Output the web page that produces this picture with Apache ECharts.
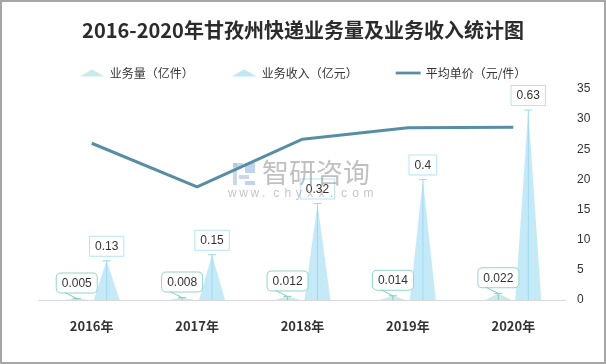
<!DOCTYPE html>
<html><head><meta charset="utf-8">
<script src="https://cdn.jsdelivr.net/npm/echarts@6/dist/echarts.min.js"></script>
<style>html,body{margin:0;padding:0;background:#fff}#c{width:606px;height:364px}</style>
</head><body><div id="c"></div>
<script>
// ---- data ----
const years = ['2016年', '2017年', '2018年', '2019年', '2020年'];
const volume = [0.005, 0.008, 0.012, 0.014, 0.022];   // 业务量（亿件）
const revenue = [0.13, 0.15, 0.32, 0.4, 0.63];        // 业务收入（亿元）
const unitPrice = [26, 18.75, 26.67, 28.57, 28.64];   // 平均单价（元/件）
const rightAxisMin = 0, rightAxisMax = 35, rightAxisStep = 5;
const leftAxisMin = 0, leftAxisMax = 0.7;

const names = ['业务量（亿件）', '业务收入（亿元）', '平均单价（元/件）'];
const volFill = '#c9ebe7', volLine = '#86cfc2', volBorder = '#93d5c9';
const revFill = 'rgba(186,230,247,0.85)', revLine = '#9dd9ef', revBorder = '#b5e4f5';
const lineColor = '#588ea3';

function stem(offset, color, tail) {
  return function (params, api) {
    const i = api.value(0), v = api.value(1);
    const top = api.coord([i, v]);
    const base = api.coord([i, 0]);
    const x = top[0] + offset;
    const children = [
      { type: 'line', shape: { x1: x, y1: top[1], x2: x, y2: base[1] }, style: { stroke: color, lineWidth: 1 } },
      { type: 'line', shape: { x1: x - 4, y1: top[1], x2: x + 4, y2: top[1] }, style: { stroke: color, lineWidth: 1 } }
    ];
    if (tail) {
      children.push({ type: 'line', shape: { x1: x - 12, y1: top[1] - 6, x2: x, y2: top[1] }, style: { stroke: color, lineWidth: 1 } });
    }
    return { type: 'group', children };
  };
}

const wm = [];
const url = 'www.chyxx.com';
for (let k = 0; k < url.length; k++) {
  wm.push({ type: 'text', left: 228 + k * 11.3, top: 188, z: 100,
    style: { text: url[k], fill: 'rgba(150,150,150,0.55)', font: '12px sans-serif' } });
}

const chart = echarts.init(document.getElementById('c'), null, { renderer: 'canvas' });
chart.setOption({
  backgroundColor: '#fff',
  animation: false,
  title: {
    text: '2016-2020年甘孜州快递业务量及业务收入统计图',
    left: 'center', top: 15,
    textStyle: { fontSize: 20, fontWeight: 'bold', color: '#2b2b2b', fontFamily: 'Noto Sans CJK SC' }
  },
  legend: {
    top: 62, left: 'center', itemWidth: 25, itemHeight: 14, itemGap: 38,
    textStyle: { fontSize: 12, color: '#333', fontFamily: 'Noto Sans CJK SC' },
    data: [
      { name: names[0], icon: 'path://M0,7 L12.5,0 L25,7 Z', itemStyle: { color: volFill } },
      { name: names[1], icon: 'path://M0,7 L12.5,0 L25,7 Z', itemStyle: { color: '#bfe7f6' } },
      { name: names[2], icon: 'path://M0,0 L27,0 L27,3 L0,3 Z', itemStyle: { color: lineColor } }
    ]
  },
  grid: { left: 39, right: 40, top: 89, bottom: 64 },
  xAxis: {
    type: 'category', data: years,
    axisLine: { lineStyle: { color: '#d9d9d9', width: 1 } },
    axisTick: { show: false },
    axisLabel: { color: '#333', fontSize: 13, fontWeight: 'bold', margin: 20, fontFamily: 'Noto Sans CJK SC' }
  },
  yAxis: [
    { type: 'value', min: leftAxisMin, max: leftAxisMax, show: false, splitLine: { show: false } },
    { type: 'value', position: 'right', min: rightAxisMin, max: rightAxisMax, interval: rightAxisStep,
      axisLine: { show: false }, axisTick: { show: false }, splitLine: { show: false },
      axisLabel: { color: '#333', fontSize: 12, margin: 11 } }
  ],
  series: [
    { name: names[0], type: 'pictorialBar', symbol: 'triangle', barWidth: 26, barGap: '15%',
      yAxisIndex: 0, data: volume, itemStyle: { color: volFill }, z: 2,
      label: { show: true, position: 'top', distance: 6, color: '#333', fontSize: 12,
        backgroundColor: '#fff', borderColor: volBorder, borderWidth: 1, borderRadius: 4, padding: [4, 5, 3, 5] } },
    { name: names[1], type: 'pictorialBar', symbol: 'triangle', barWidth: 26, barGap: '15%',
      yAxisIndex: 0, data: revenue, itemStyle: { color: revFill }, z: 2,
      label: { show: true, position: 'top', distance: 5, color: '#333', fontSize: 12,
        backgroundColor: '#fff', borderColor: revBorder, borderWidth: 1, padding: [4, 5, 3, 5] } },
    { name: names[0], type: 'custom', yAxisIndex: 0, z: 3, silent: true,
      data: volume.map((v, i) => [i, v]), renderItem: stem(-15, volLine, true) },
    { name: names[1], type: 'custom', yAxisIndex: 0, z: 3, silent: true,
      data: revenue.map((v, i) => [i, v]), renderItem: stem(15, revLine, false) },
    { name: names[2], type: 'line', yAxisIndex: 1, data: unitPrice, symbol: 'none', z: 4,
      lineStyle: { color: lineColor, width: 3 }, itemStyle: { color: lineColor } }
  ],
  graphic: [
    { type: 'rect', shape: { x: 1, y: 1, width: 604, height: 362 }, style: { fill: 'none', stroke: '#a6a6a6', lineWidth: 2 }, z: 100 },
    { type: 'group', left: 233, top: 163, z: 100, children: [
      { type: 'rect', shape: { x: 0, y: 0, width: 10, height: 4 }, style: { fill: 'rgba(170,190,215,0.6)' } },
      { type: 'rect', shape: { x: 0, y: 0, width: 4, height: 22 }, style: { fill: 'rgba(170,190,215,0.6)' } },
      { type: 'rect', shape: { x: 12, y: 0, width: 10, height: 10 }, style: { fill: 'rgba(150,185,225,0.6)' } },
      { type: 'rect', shape: { x: 6, y: 12, width: 10, height: 4 }, style: { fill: 'rgba(170,190,215,0.6)' } },
      { type: 'rect', shape: { x: 12, y: 18, width: 10, height: 4 }, style: { fill: 'rgba(150,185,225,0.6)' } }
    ] },
    { type: 'text', left: 262, top: 159, z: 100,
      style: { text: '智研咨询', fill: 'rgba(140,140,140,0.55)', font: '27px "Noto Sans CJK SC"' } }
  ].concat(wm)
});
</script></body></html>
